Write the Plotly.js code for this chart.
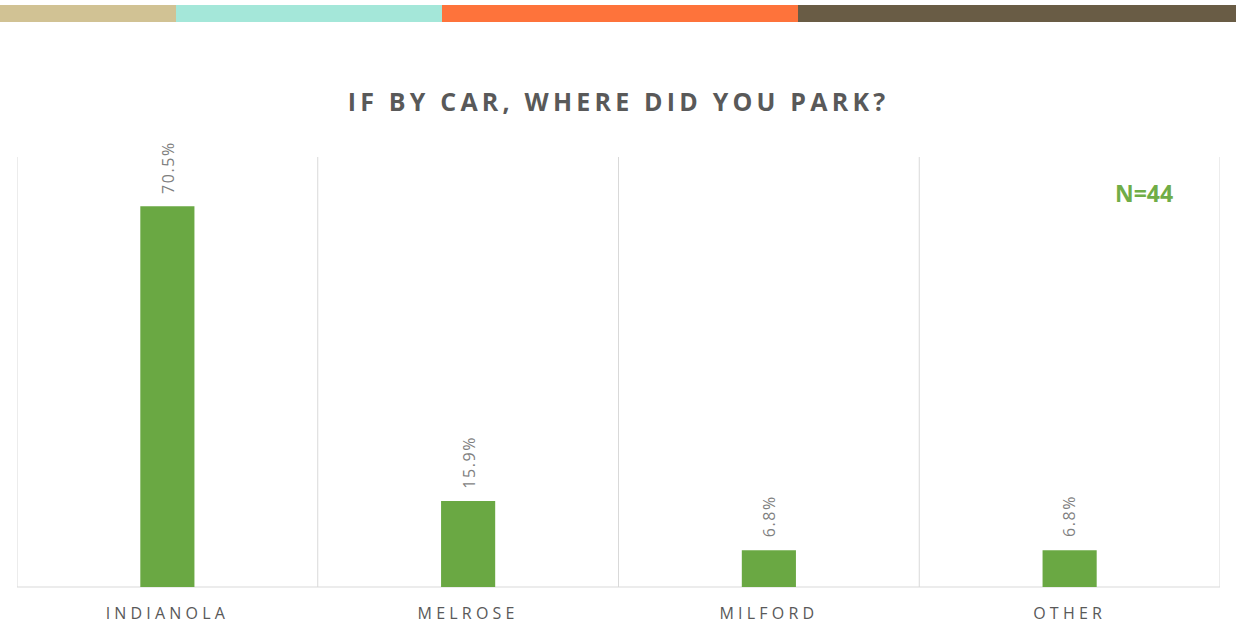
<!DOCTYPE html>
<html><head><meta charset="utf-8">
<script src="https://cdn.plot.ly/plotly-3.0.1.min.js"></script>
<style>
html,body{margin:0;padding:0;background:#fff;}
#chart{width:1236px;height:626px;}
.xtick text{letter-spacing:4.2px;}
.gtitle{letter-spacing:4.2px;}
.annotation.vlab text{letter-spacing:1.6px;}
</style>
</head><body>
<div id="chart"></div>
<script>
const categories = ["INDIANOLA", "MELROSE", "MILFORD", "OTHER"];
const values = [70.5, 15.9, 6.8, 6.8];
const labels = ["70.5%", "15.9%", "6.8%", "6.8%"];
const stripColors = ["#d1c294", "#a4e7d9", "#fe733b", "#695c45"];
const stripEdges = [0, 176, 442, 798, 1236];
const chartTitle = "IF BY CAR, WHERE DID YOU PARK?";
const note = "N=44";

const shapes = [];
for (let i = 0; i < stripColors.length; i++) {
  shapes.push({type:'rect', xref:'paper', yref:'paper',
    x0:(stripEdges[i]-17)/1203, x1:(stripEdges[i+1]-17)/1203,
    y0:(587-22)/430, y1:(587-5)/430,
    fillcolor:stripColors[i], line:{width:0}, layer:'above'});
}
for (let i = 0; i <= categories.length; i++) {
  shapes.push({type:'line', xref:'x', yref:'paper', x0:i-0.5, x1:i-0.5, y0:0, y1:1,
    line:{color:'#d9d9d9', width:1}, layer:'below'});
}
shapes.push({type:'line', xref:'paper', yref:'paper', x0:0, x1:1, y0:0, y1:0,
  line:{color:'#d9d9d9', width:1}, layer:'below'});

const trace = {
  type:'bar', x:categories, y:values,
  marker:{color:'#6aa843'}, width:0.18, hoverinfo:'none'
};

const annotations = categories.map((c, i) => ({
  text:labels[i], x:c, y:values[i], xref:'x', yref:'y', textangle:-90,
  xanchor:'center', yanchor:'bottom', yshift:14, showarrow:false,
  font:{family:'Open Sans, sans-serif', size:16, color:'#7f7f7f'}
}));
annotations.push({text:'<b>'+note+'</b>', xref:'paper', yref:'paper',
  x:(1144-17)/1203, y:(587-193)/430, xanchor:'center', yanchor:'middle', showarrow:false,
  font:{family:'Open Sans, sans-serif', size:23, color:'#70ad47'}});

const layout = {
  width:1236, height:626,
  margin:{l:17, r:16, t:157, b:39},
  paper_bgcolor:'#fff', plot_bgcolor:'#fff',
  showlegend:false,
  title:{text:chartTitle, x:0.5, xref:'paper', y:1-(102/626), yanchor:'middle',
    font:{family:'Open Sans, sans-serif', size:25, color:'#595959', weight:700}},
  xaxis:{type:'category', range:[-0.5, 3.5], showgrid:false, zeroline:false, showline:false,
    ticks:'', ticklabelstandoff:15,
    tickfont:{family:'Open Sans, sans-serif', size:16, color:'#595959'}, fixedrange:true},
  yaxis:{range:[0, 79.6], visible:false, fixedrange:true},
  shapes:shapes,
  annotations:annotations
};

Plotly.newPlot('chart', [trace], layout, {displayModeBar:false, staticPlot:true}).then(() => {
  document.querySelectorAll('.annotation').forEach((g, i) => { if (i < categories.length) g.classList.add('vlab'); });
});
</script>
</body></html>
